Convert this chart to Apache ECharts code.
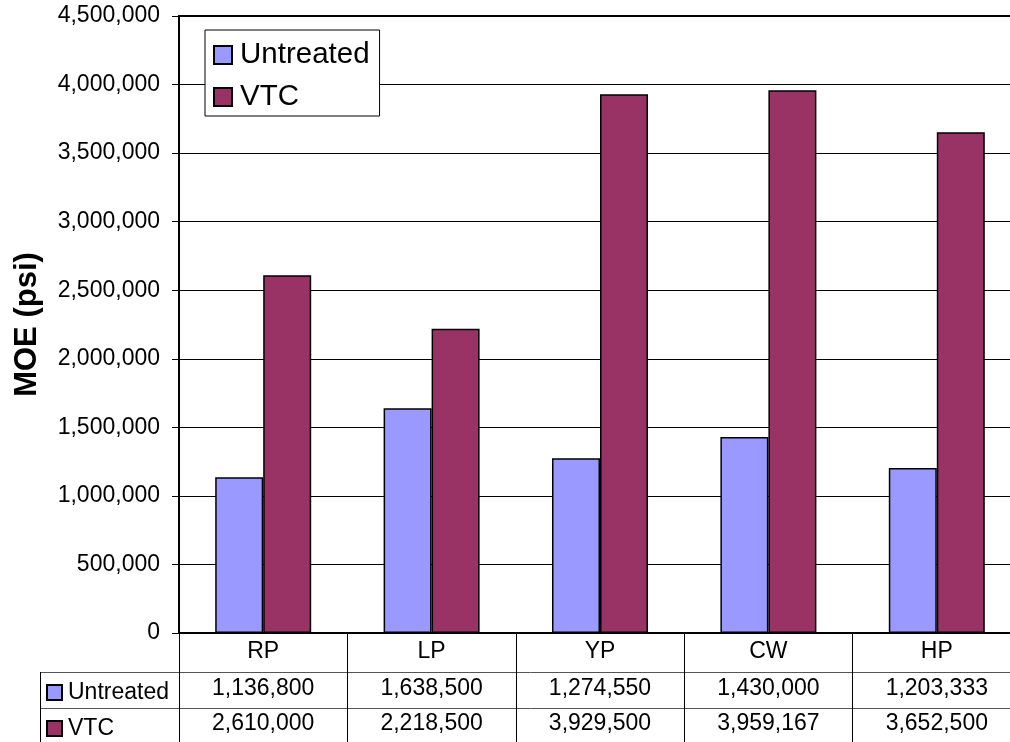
<!DOCTYPE html>
<html>
<head>
<meta charset="utf-8">
<script src="https://cdn.jsdelivr.net/npm/echarts@6/dist/echarts.min.js"></script>
<style>
  html, body { margin: 0; padding: 0; background: #fff; overflow: hidden; }
  body { width: 1010px; height: 742px; }
  /* the plot runs a little past the right edge of the page */
  #chart { width: 1021px; height: 742px; }
</style>
</head>
<body>
<div id="chart"></div>
<script>
// MOE of untreated vs. VTC-treated wood species
const categories = ['RP', 'LP', 'YP', 'CW', 'HP'];
const untreated = [1136800, 1638500, 1274550, 1430000, 1203333];
const vtc = [2610000, 2218500, 3929500, 3959167, 3652500];
const seriesNames = ['Untreated', 'VTC'];
const yTicks = { min: 0, max: 4500000, interval: 500000 };

const FONT = '"Liberation Sans", Arial, sans-serif';
const fmt = v => Number(v).toLocaleString('en-US');

const chart = echarts.init(document.getElementById('chart'), null, { renderer: 'canvas' });

// category labels double as the data table below the plot
const tableLabel = (name, idx) =>
  '{h|' + name + '}\n{r|' + fmt(untreated[idx]) + '}\n{r2|' + fmt(vtc[idx]) + '}';

chart.setOption({
  animation: false,
  backgroundColor: '#fff',
  textStyle: { fontFamily: FONT, color: '#000' },
  grid: {
    left: 179, right: 0, top: 16, bottom: 109,
    show: true, borderColor: '#000', borderWidth: 2, backgroundColor: 'transparent'
  },
  legend: [
    {
      data: seriesNames,
      orient: 'vertical',
      left: 205, top: 30,
      padding: [10, 10, 4, 8],
      itemGap: 12,
      itemWidth: 18, itemHeight: 18,
      backgroundColor: '#fff',
      borderColor: '#000', borderWidth: 1,
      textStyle: { fontSize: 29.5, fontFamily: FONT, color: '#000', padding: [0, 0, 0, 3] },
      icon: 'rect'
    },
    {
      data: seriesNames,
      orient: 'vertical',
      left: 46, top: 681,
      padding: 0,
      itemGap: 13,
      itemWidth: 15, itemHeight: 15,
      selectedMode: false,
      textStyle: { fontSize: 23, fontFamily: FONT, color: '#000', padding: [0, 0, 0, 1] },
      icon: 'rect'
    }
  ],
  xAxis: {
    type: 'category',
    data: categories,
    axisLine: { lineStyle: { color: '#000', width: 2 } },
    axisTick: { show: true, length: 110, interval: 0, lineStyle: { color: '#000', width: 1 } },
    axisLabel: {
      interval: 0,
      margin: 0,
      formatter: tableLabel,
      rich: {
        h: { fontSize: 23, lineHeight: 38, fontFamily: FONT, color: '#000' },
        r: { fontSize: 23, lineHeight: 36, fontFamily: FONT, color: '#000' },
        r2: { fontSize: 23, lineHeight: 34, fontFamily: FONT, color: '#000' }
      }
    },
    splitLine: { show: false }
  },
  yAxis: {
    type: 'value',
    min: yTicks.min, max: yTicks.max, interval: yTicks.interval,
    name: 'MOE (psi)',
    nameLocation: 'middle',
    nameRotate: 90,
    nameGap: 136,
    nameTextStyle: { fontSize: 31, fontWeight: 'bold', fontFamily: FONT, color: '#000' },
    axisLine: { show: true, lineStyle: { color: '#000', width: 2 } },
    axisTick: { show: true, length: 7, lineStyle: { color: '#000', width: 1 } },
    axisLabel: { fontSize: 23, margin: 19, color: '#000', fontFamily: FONT, formatter: fmt },
    splitLine: { show: true, lineStyle: { color: '#000', width: 1 } }
  },
  series: [
    {
      name: seriesNames[0], type: 'bar', data: untreated,
      barWidth: 48, barGap: '0%',
      itemStyle: { color: '#9999FF', borderColor: '#000', borderWidth: 1.5 }
    },
    {
      name: seriesNames[1], type: 'bar', data: vtc,
      barWidth: 48, barGap: '0%',
      itemStyle: { color: '#993366', borderColor: '#000', borderWidth: 1.5 }
    }
  ],
  graphic: [
    // data table row rules and left edge
    { type: 'line', shape: { x1: 40, y1: 672.5, x2: 1021, y2: 672.5 }, style: { stroke: '#555', lineWidth: 1 }, silent: true },
    { type: 'line', shape: { x1: 40, y1: 708.5, x2: 1021, y2: 708.5 }, style: { stroke: '#555', lineWidth: 1 }, silent: true },
    { type: 'line', shape: { x1: 40.5, y1: 672, x2: 40.5, y2: 742 }, style: { stroke: '#000', lineWidth: 1 }, silent: true }
  ]
});
</script>
</body>
</html>
